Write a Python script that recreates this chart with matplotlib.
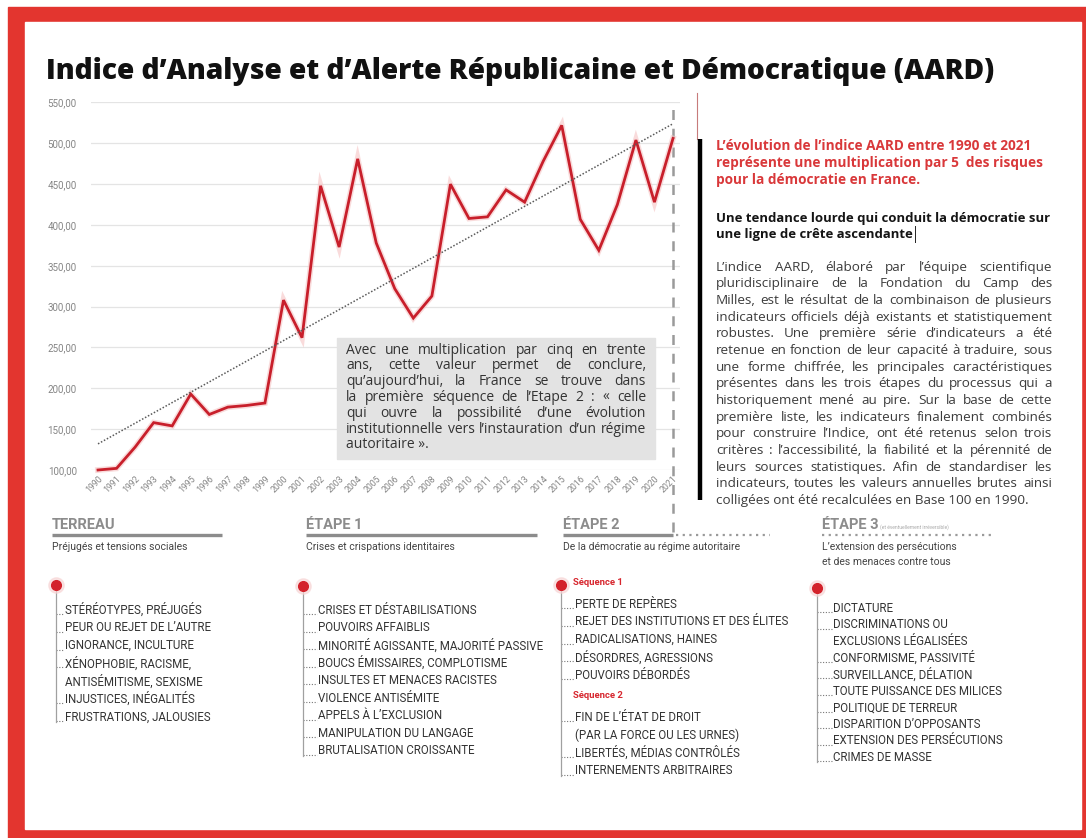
import matplotlib.pyplot as plt
from matplotlib.patches import Rectangle

plt.rcParams['font.family'] = ['Roboto', 'DejaVu Sans']

W, H = 1086, 838

# --- chart data ---
years = list(range(1990, 2022))
aard = [100, 102, 128, 158, 154, 193, 168, 177, 179, 182, 308, 262, 448, 373, 481, 378,
        322, 286, 313, 450, 408, 410, 443, 428, 478, 522, 407, 369, 425, 504, 428, 506]
trend_years = [1990, 2021]
trend_values = [132, 524]
y_ticks = [100, 150, 200, 250, 300, 350, 400, 450, 500, 550]

title = "Indice d’Analyse et d’Alerte Républicaine et Démocratique (AARD)"

box_lines = [
    "Avec une multiplication par cinq en trente",
    "ans, cette valeur permet de conclure,",
    "qu’aujourd’hui, la France se trouve dans",
    "la première séquence de l’Etape 2 : « celle",
    "qui ouvre la possibilité d’une évolution",
    "institutionnelle vers l’instauration d’un régime",
    "autoritaire ».",
]
lead_lines = [
    "L’évolution de l’indice AARD entre 1990 et 2021",
    "représente une multiplication par 5  des risques",
    "pour la démocratie en France.",
]
heading_lines = [
    "Une tendance lourde qui conduit la démocratie sur",
    "une ligne de crête ascendante",
]
body_lines = [
    "L’indice AARD, élaboré par l’équipe scientifique",
    "pluridisciplinaire de la Fondation du Camp des",
    "Milles, est le résultat de la combinaison de plusieurs",
    "indicateurs officiels déjà existants et statistiquement",
    "robustes. Une première série d’indicateurs a été",
    "retenue en fonction de leur capacité à traduire, sous",
    "une forme chiffrée, les principales caractéristiques",
    "présentes dans les trois étapes du processus qui a",
    "historiquement mené au pire. Sur la base de cette",
    "première liste, les indicateurs finalement combinés",
    "pour construire l’Indice, ont été retenus selon trois",
    "critères : l’accessibilité, la fiabilité et la pérennité de",
    "leurs sources statistiques. Afin de standardiser les",
    "indicateurs, toutes les valeurs annuelles brutes ainsi",
    "colligées ont été recalculées en Base 100 en 1990.",
]

stage_titles = ["TERREAU", "ÉTAPE 1", "ÉTAPE 2", "ÉTAPE 3"]
stage_subtitles = [
    ["Préjugés et tensions sociales"],
    ["Crises et crispations identitaires"],
    ["De la démocratie au régime autoritaire"],
    ["L’extension des persécutions", "et des menaces contre tous"],
]
# ("item", text) has a dotted leader, ("cont", text) continues the item above, ("seq", text) is a red sub-title
terreau_items = [("item", "STÉRÉOTYPES, PRÉJUGÉS"), ("item", "PEUR OU REJET DE L’AUTRE"),
                 ("item", "IGNORANCE, INCULTURE"), ("item", "XÉNOPHOBIE, RACISME,"),
                 ("cont", "ANTISÉMITISME, SEXISME"), ("item", "INJUSTICES, INÉGALITÉS"),
                 ("item", "FRUSTRATIONS, JALOUSIES")]
etape1_items = [("item", "CRISES ET DÉSTABILISATIONS"), ("item", "POUVOIRS AFFAIBLIS"),
                ("item", "MINORITÉ AGISSANTE, MAJORITÉ PASSIVE"), ("item", "BOUCS ÉMISSAIRES, COMPLOTISME"),
                ("item", "INSULTES ET MENACES RACISTES"), ("item", "VIOLENCE ANTISÉMITE"),
                ("item", "APPELS À L’EXCLUSION"), ("item", "MANIPULATION DU LANGAGE"),
                ("item", "BRUTALISATION CROISSANTE")]
etape2_items = [("seq", "Séquence 1"), ("item", "PERTE DE REPÈRES"),
                ("item", "REJET DES INSTITUTIONS ET DES ÉLITES"), ("item", "RADICALISATIONS, HAINES"),
                ("item", "DÉSORDRES, AGRESSIONS"), ("item", "POUVOIRS DÉBORDÉS"),
                ("seq", "Séquence 2"), ("item", "FIN DE L’ÉTAT DE DROIT"),
                ("cont", "(PAR LA FORCE OU LES URNES)"), ("item", "LIBERTÉS, MÉDIAS CONTRÔLÉS"),
                ("item", "INTERNEMENTS ARBITRAIRES")]
etape3_items = [("item", "DICTATURE"), ("item", "DISCRIMINATIONS OU"),
                ("cont", "EXCLUSIONS LÉGALISÉES"), ("item", "CONFORMISME, PASSIVITÉ"),
                ("item", "SURVEILLANCE, DÉLATION"), ("item", "TOUTE PUISSANCE DES MILICES"),
                ("item", "POLITIQUE DE TERREUR"), ("item", "DISPARITION D’OPPOSANTS"),
                ("item", "EXTENSION DES PERSÉCUTIONS"), ("item", "CRIMES DE MASSE")]

RED = "#d7262e"
GREY_HEAD = "#8c8c8c"
SANS = ["Open Sans", "DejaVu Sans"]

fig = plt.figure(figsize=(W / 100, H / 100), dpi=100)
fig.patch.set_facecolor("white")

# background / red frame
bg = fig.add_axes([0, 0, 1, 1], zorder=0)
bg.set_xlim(0, W); bg.set_ylim(H, 0); bg.axis("off")
bg.add_patch(Rectangle((8, 7), W - 8, H - 7, color="#e3352f"))
bg.add_patch(Rectangle((25, 22), 1081 - 25, 829 - 22, color="white"))

# --- line chart ---
x_pad = 0.4
px_per_year = (673 - 98) / (years[-1] - years[0])
left_px = 98 - x_pad * px_per_year
right_px = 673 + x_pad * px_per_year
top_px, bottom_px = 102.5, 470
ax = fig.add_axes([left_px / W, (H - bottom_px) / H, (right_px - left_px) / W, (bottom_px - top_px) / H], zorder=1)
ax.patch.set_alpha(0)
ax.set_xlim(years[0] - x_pad, years[-1] + x_pad)
ax.set_ylim(y_ticks[0], y_ticks[-1])
ax.set_yticks(y_ticks, [f"{v:.2f}".replace(".", ",") for v in y_ticks])
ax.set_xticks(years, [str(y) for y in years], rotation=45, ha="right", rotation_mode="anchor")
ax.tick_params(axis="y", length=0, pad=10, labelsize=7, labelcolor="#858585")
ax.tick_params(axis="x", length=0, pad=3, labelsize=6.3, labelcolor="#858585")
ax.grid(axis="y", color="#e4e4e4", lw=0.9)
ax.set_axisbelow(True)
for s in ax.spines.values():
    s.set_visible(False)

ax.plot(years, aard, color="#f5c4c4", lw=4.2, alpha=0.6, solid_joinstyle="miter", clip_on=False, zorder=2)
ax.plot(years, aard, color="#c81f2b", lw=2.0, solid_joinstyle="miter", clip_on=False, zorder=3)
ax.plot(trend_years, trend_values, color="#5a5a5a", lw=1.1, ls=(0, (1, 1.2)), zorder=4)
ax.axvline(years[-1], ymin=(bottom_px - 532) / (bottom_px - top_px), ymax=(bottom_px - 107) / (bottom_px - top_px),
           color="#9a9a9a", lw=1.8, ls=(0, (4, 3.5)), clip_on=False, zorder=1)

# --- overlay for texts and decorations (pixel coordinates) ---
ov = fig.add_axes([0, 0, 1, 1], zorder=2)
ov.set_xlim(0, W); ov.set_ylim(H, 0); ov.axis("off"); ov.patch.set_alpha(0)
renderer = fig.canvas.get_renderer()


def width_of(artist):
    return artist.get_window_extent(renderer).width


def measure(text, size=10, **kw):
    probe = ov.text(0, 0, text, fontsize=size, **kw)
    w = width_of(probe)
    probe.remove()
    return w


def fit_size(text, target, size=10, **kw):
    return size * target / measure(text, size, **kw)


def justified(lines, x0, x1, y0, step, fill=0.985, **kw):
    # font size so that the densest line just fills the measure with plain spaces
    longest = max(lines[:-1], key=lambda s: measure(s, **kw))
    size = fit_size(longest, (x1 - x0) * fill, **kw)
    for i, line in enumerate(lines):
        y = y0 + i * step
        words = line.split()
        if i == len(lines) - 1 or len(words) == 1:
            ov.text(x0, y, line, va="center", ha="left", fontsize=size, **kw)
            continue
        arts = [ov.text(0, y, w, va="center", ha="left", fontsize=size, **kw) for w in words]
        widths = [width_of(a) for a in arts]
        gap = (x1 - x0 - sum(widths)) / (len(words) - 1)
        x = x0
        for a, w in zip(arts, widths):
            a.set_x(x)
            x += w + gap


title_kw = dict(family=SANS, fontweight="heavy", color="#111111")
ov.text(46, 79, title, fontsize=fit_size(title, 954, **title_kw), va="baseline", ha="left", **title_kw)

# grey comment box inside the chart
ov.add_patch(Rectangle((337, 338), 318, 121, color="#e3e3e3", zorder=0))
justified(box_lines, 346, 646, 350, 15.8, family=SANS, color="#333333")

# right column
ov.plot([697, 697], [93, 139], color="#c77b7b", lw=0.8)
ov.plot([699.5, 699.5], [139, 500], color="black", lw=3.2, solid_capstyle="butt")
lead_kw = dict(family=SANS, fontweight="bold", color="#d9383a")
lead_size = fit_size(lead_lines[0], 317, **lead_kw)
for i, line in enumerate(lead_lines):
    ov.text(716, 146 + i * 17, line, fontsize=lead_size, va="center", **lead_kw)
head_kw = dict(family=SANS, fontweight="bold", color="#151515")
head_size = fit_size(heading_lines[0], 334, **head_kw)
for i, line in enumerate(heading_lines):
    ov.text(716, 218 + i * 16.5, line, fontsize=head_size, va="center", **head_kw)
cursor_x = 716 + measure(heading_lines[-1], head_size, **head_kw) + 2
ov.plot([cursor_x, cursor_x], [226, 242], color="#222222", lw=0.7)
justified(body_lines, 716, 1052, 267, 16.67, family=SANS, color="#3c3c3c")

# --- bottom stages ---
columns = [
    dict(items=terreau_items, hx=52, solid=(52, 222), dotted=None, dot=(56, 585), tx=65, y0=610, step=17.8),
    dict(items=etape1_items, hx=306, solid=(306, 537), dotted=None, dot=(303, 586), tx=318, y0=610, step=17.6),
    dict(items=etape2_items, hx=563, solid=(563, 673), dotted=(676, 770), dot=(561, 585), tx=575, y0=582, step=17.8),
    dict(items=etape3_items, hx=822, solid=None, dotted=(822, 995), dot=(817, 588), tx=833, y0=608, step=16.6),
]
for col, name, subs in zip(columns, stage_titles, stage_subtitles):
    ov.text(col["hx"], 525, name, fontsize=10.5, fontweight="bold", color=GREY_HEAD, va="center")
    if col["solid"]:
        ov.plot(col["solid"], [535, 535], color=GREY_HEAD, lw=2.4, solid_capstyle="butt")
    if col["dotted"]:
        ov.plot(col["dotted"], [535, 535], color="#9a9a9a", lw=1.6, ls=(0, (1, 2)))
    for j, s in enumerate(subs):
        ov.text(col["hx"], 547 + j * 15, s, fontsize=7.5, color="#444444", va="center")

    dx, dy = col["dot"]
    y = col["y0"]
    last_y = y
    for kind, text in col["items"]:
        if kind == "seq":
            if y != col["y0"]:
                y += 2.2
            ov.text(col["tx"] - 2, y, text, fontsize=6.8, fontweight="bold", color=RED, va="center")
            last_y = y
            y += 22
            continue
        if kind == "item":
            ov.plot([dx, col["tx"] - 1], [y + 4, y + 4], color="#777777", lw=0.8, ls=(0, (1, 1.5)))
        ov.text(col["tx"], y, text, fontsize=8.3, color="#333333", va="center")
        last_y = y
        y += col["step"]
    ov.plot([dx, dx], [dy, last_y + 5], color="#a0a0a0", lw=0.9)
    ov.plot([dx], [dy], "o", ms=11, color="#f7d3d3", alpha=0.6)
    ov.plot([dx], [dy], "o", ms=7, color="#d3222b")

ov.text(880, 527, "(et éventuellement irréversible)", fontsize=3.6, color="#aaaaaa", va="center")

fig.savefig("out.png", dpi=100)
